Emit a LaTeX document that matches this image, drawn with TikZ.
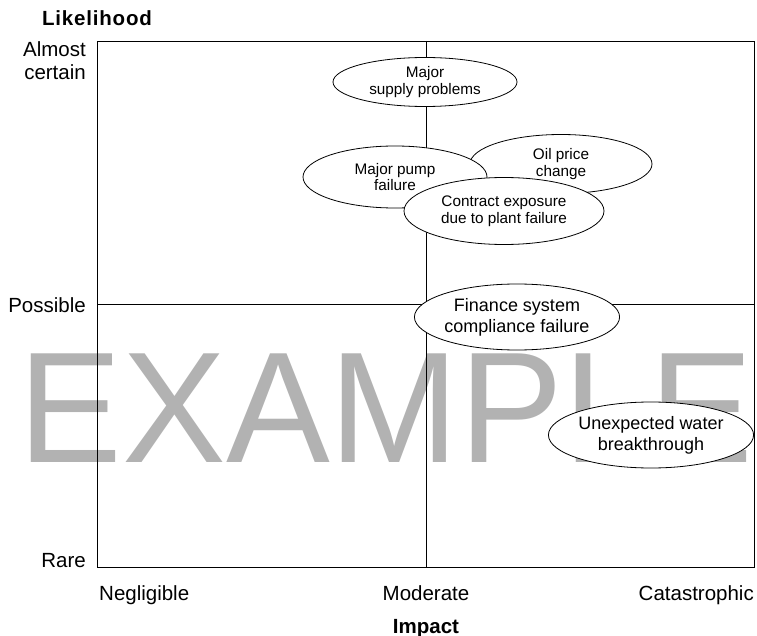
\documentclass[tikz,border=0pt]{standalone}
\usepackage{fontspec}
\setmainfont{Liberation Sans}
\usetikzlibrary{shapes,positioning}

\begin{document}
\begin{tikzpicture}[x=1pt,y=-1pt]
\tikzstyle{risk}=[ellipse, draw=black, fill=white, thick, inner sep=0pt, align=center, font=\fontsize{15.3}{16.8}\selectfont]
\tikzstyle{riskbig}=[risk, font=\fontsize{18}{21}\selectfont]
\tikzstyle{lbl}=[inner sep=0pt, font=\fontsize{20.5}{23}\selectfont]
\tikzstyle{axis}=[lbl, font=\fontsize{20.5}{23}\bfseries\selectfont]
\tikzstyle{grid}=[draw, thick]
\tikzstyle{watermark}=[black!30, inner sep=0pt, font=\fontsize{158}{160}\selectfont]

\useasboundingbox (0,0) rectangle (757,636);

	\node[watermark, anchor=base] (wm) at (386,462) {\scalebox{0.985}[1]{EXAMPLE}};

	\coordinate (tl) at (97,41);
	\coordinate (br) at (754,567);
	\coordinate (mt) at (426,41);
	\coordinate (mb) at (426,567);
	\coordinate (ml) at (97,304);
	\coordinate (mr) at (754,304);
	\path [grid] (tl) rectangle (br);
	\path [grid]
		(mt) -- (mb)
		(ml) -- (mr);

	\node[axis, anchor=base] (lik) at (97,26) []{\addfontfeatures{LetterSpace=4}Likelihood};
	\node[lbl, anchor=east, align=right] (ac) at (86,61) []{Almost\\certain};
	\node[lbl, anchor=base east] (pos) at (86,312) []{Possible};
	\node[lbl, anchor=base east] (rare) at (86,567) []{Rare};
	\node[lbl, anchor=base west] (neg) at (99,600) []{Negligible};
	\node[lbl, anchor=base] (mod) at (426,600) []{Moderate};
	\node[lbl, anchor=base east] (cat) at (754,600) []{Catastrophic};
	\node[axis, anchor=base] (imp) at (426,633) []{Impact};

	\node[risk, minimum width=184pt, minimum height=49pt] (sup) at (425,82) []{Major\\supply problems};
	\node[risk, minimum width=182pt, minimum height=59pt] (oil) at (561,164) []{Oil price\\change};
	\node[risk, minimum width=184pt, minimum height=62pt] (pump) at (395,177) []{Major pump\\failure};
	\node[risk, minimum width=200pt, minimum height=67pt] (con) at (504,211) []{Contract exposure\\due to plant failure};
	\node[riskbig, minimum width=202pt, minimum height=66pt] (fin) at (517,317) []{Finance system\\compliance failure};
	\node[riskbig, minimum width=202pt, minimum height=66pt] (wat) at (651,435) []{Unexpected water\\breakthrough};

\end{tikzpicture}
\end{document}
